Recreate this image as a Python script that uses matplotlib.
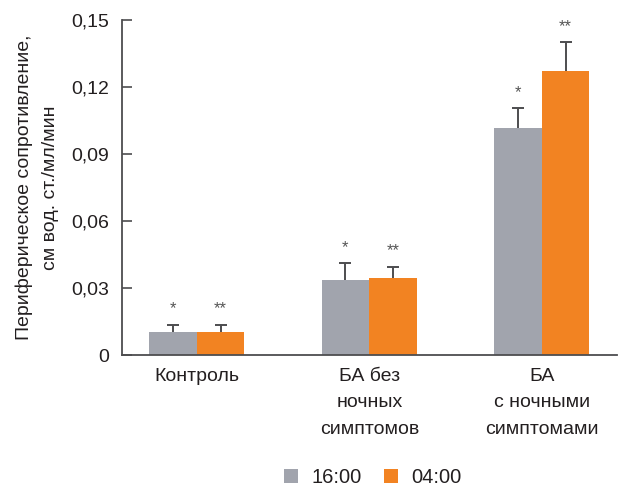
import matplotlib
matplotlib.use("Agg")
import matplotlib.pyplot as plt
from matplotlib.patches import Patch
import numpy as np

plt.rcParams['font.family'] = ['Liberation Sans', 'DejaVu Sans']

# Data
groups = ["Контроль", "БА без\nночных\nсимптомов", "БА\nс ночными\nсимптомами"]
series_names = ["16:00", "04:00"]
values_1600 = [0.0105, 0.0335, 0.1015]
errors_1600 = [0.0030, 0.0075, 0.0090]
values_0400 = [0.0105, 0.0345, 0.1270]
errors_0400 = [0.0030, 0.0050, 0.0130]
marks_1600 = ["*", "*", "*"]
marks_0400 = ["**", "**", "**"]
yticks = [0, 0.03, 0.06, 0.09, 0.12, 0.15]
ytick_labels = ["0", "0,03", "0,06", "0,09", "0,12", "0,15"]
ylabel = "Периферическое сопротивление,\nсм вод. ст./мл/мин"

gray = "#A1A4AD"
orange = "#F28322"
text_c = "#231F20"
err_c = "#4D4D4F"

fig = plt.figure(figsize=(6.18, 4.88), dpi=100)
ax = fig.add_axes([0.197, 0.2725, 0.801, 0.6865])

x = np.arange(len(groups))
w = 0.276

ax.bar(x - w / 2, values_1600, w, color=gray, zorder=2)
ax.bar(x + w / 2, values_0400, w, color=orange, zorder=2)


def upper_errorbars(xs, vals, errs):
    # one-sided (upper) error bars: hide the lower cap
    _, caps, _ = ax.errorbar(xs, vals, yerr=[np.zeros(len(errs)), errs], fmt="none",
                             ecolor=err_c, elinewidth=1.4, capsize=4, capthick=1.4,
                             zorder=1)
    caps[0].set_visible(False)


upper_errorbars(x - w / 2, values_1600, errors_1600)
upper_errorbars(x + w / 2, values_0400, errors_0400)

# significance marks above the error bars
for xi, v, e, m in zip(x - w / 2, values_1600, errors_1600, marks_1600):
    ax.text(xi, v + e + 0.0072, m, ha="center", va="center", fontsize=12, color="#555555")
for xi, v, e, m in zip(x + w / 2, values_0400, errors_0400, marks_0400):
    ax.text(xi, v + e + 0.0072, m, ha="center", va="center", fontsize=12, color="#555555")

ax.set_xlim(-0.435, 2.435)
ax.set_ylim(0, 0.15)
ax.set_yticks(yticks)
ax.set_yticklabels(ytick_labels)
ax.set_xticks(x)
ax.set_xticklabels(groups, linespacing=1.75, va="top")

ax.tick_params(axis="y", direction="in", length=7, width=1.2, colors=err_c,
               labelcolor=text_c, labelsize=14, pad=9)
ax.tick_params(axis="x", length=0, labelsize=14, labelcolor=text_c, pad=9)

for s in ["top", "right"]:
    ax.spines[s].set_visible(False)
for s in ["left", "bottom"]:
    ax.spines[s].set_color(err_c)
    ax.spines[s].set_linewidth(1.3)

ax.set_ylabel(ylabel, fontsize=14, color=text_c, linespacing=1.7, labelpad=9)

handles = [Patch(facecolor=gray, edgecolor="none"), Patch(facecolor=orange, edgecolor="none")]
fig.legend(handles, series_names, loc="center", bbox_to_anchor=(0.603, 0.022),
           ncol=2, frameon=False, fontsize=14.5, handlelength=0.7, handleheight=0.7,
           handletextpad=0.65, columnspacing=1.1, labelcolor=text_c)

fig.savefig("out.png", dpi=100)
